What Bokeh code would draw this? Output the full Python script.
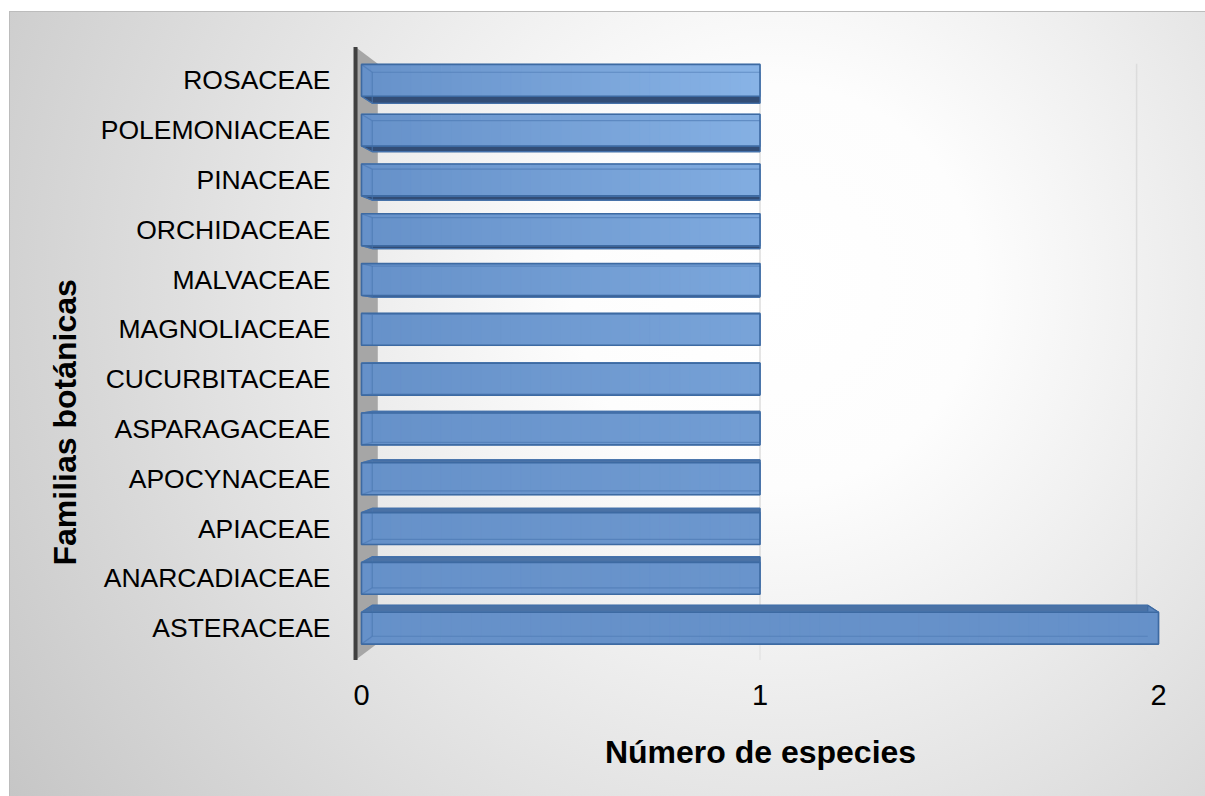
import numpy as np
from bokeh.plotting import figure
from bokeh.models import Range1d, FixedTicker, Title
from bokeh.embed import file_html
from bokeh.resources import INLINE

# Data: number of species per botanical family
familias = ["ASTERACEAE", "ANARCADIACEAE", "APIACEAE", "APOCYNACEAE",
            "ASPARAGACEAE", "CUCURBITACEAE", "MAGNOLIACEAE", "MALVACEAE",
            "ORCHIDACEAE", "PINACEAE", "POLEMONIACEAE", "ROSACEAE"]
especies = [2, 1, 1, 1, 1, 1, 1, 1, 1, 1, 1, 1]
x_ticks = [0, 1, 2]
x_tick_labels = ["0", "1", "2"]

n = len(familias)
pos = np.arange(n)

FONT = "Liberation Sans"

# perspective: points recede toward a vanishing point in the middle of the chart
VX = (x_ticks[0] + x_ticks[-1]) / 2.0
VY = (n - 1) / 2.0
K_BAR = 0.027      # depth of a bar
K_WALL = 0.055     # depth of the chart walls
H = 0.32           # half thickness of a bar (category units)


def recede(x, y, k):
    return x + k * (VX - x), y + k * (VY - y)


def mix(c1, c2, t):
    return "#%02x%02x%02x" % tuple(int(round(a + (b - a) * t)) for a, b in zip(c1, c2))


p = figure(width=1205, height=796, output_backend="svg", toolbar_location=None,
           x_range=Range1d(-0.0527, 2.0552), y_range=Range1d(-0.75, n - 1 + 0.8),
           min_border_left=340, min_border_right=25, min_border_top=40,
           min_border_bottom=131)
p.background_fill_alpha = 0
p.border_fill_alpha = 0
p.outline_line_color = None
p.xgrid.visible = False
p.ygrid.visible = False
p.styles = {
    "background": (
        "radial-gradient(circle farthest-corner at 64% 35%, #ffffff 0%, #fdfdfd 22%, "
        "#c6c6c6 100%) 10px 12px / calc(100% - 10px) calc(100% - 12px) no-repeat, "
        "linear-gradient(#bcbcbc, #bcbcbc) 9px 11px / 100% 100% no-repeat, #ffffff"
    )
}

# ---- side wall at x = 0 ----
wall_top = n - 1 + 0.67
wall_bot = -0.64
wx0 = -0.015
bx_t, by_t = recede(wx0, wall_top, K_WALL)
bx_b, by_b = recede(wx0, wall_bot, K_WALL)
p.patch([wx0, bx_t, bx_b, wx0], [wall_top, by_t, by_b, wall_bot],
        fill_color="#a6a6a6", line_color=None)
p.segment(x0=[wx0], y0=[wall_bot], x1=[wx0], y1=[wall_top],
          line_color="#404040", line_width=4)

# ---- gridlines on the back wall ----
for t in x_ticks[1:]:
    gx, gy_t = recede(t, wall_top, K_WALL)
    _, gy_b = recede(t, wall_bot, K_WALL)
    p.segment(x0=[gx], y0=[gy_t], x1=[gx], y1=[gy_b],
              line_color="#dcdcdc", line_width=1.5)
    p.segment(x0=[gx], y0=[gy_b], x1=[t], y1=[wall_bot],
              line_color="#e4e4e4", line_width=1.5)

# ---- 3D bars ----
BASE = (102, 145, 201)
LIGHT = (136, 179, 230)
EDGE = "#3d6aa2"

for i, (c, v) in enumerate(zip(pos, especies)):
    yb, yt = c - H, c + H
    # corners of front and back faces
    fbl, fbr, ftr, ftl = (0, yb), (v, yb), (v, yt), (0, yt)
    bbl, bbr, btr, btl = [recede(px, py, K_BAR) for px, py in (fbl, fbr, ftr, ftl)]

    # back face
    p.patch([q[0] for q in (bbl, bbr, btr, btl)], [q[1] for q in (bbl, bbr, btr, btl)],
            fill_color="#5a84bb", line_color=EDGE, line_width=1)
    # underside (bars above eye level) or top side (below eye level)
    if c > VY:
        face = (fbl, fbr, bbr, bbl)
        col = "#324d76"
    else:
        face = (ftl, ftr, btr, btl)
        col = "#4a72a6"
    p.patch([q[0] for q in face], [q[1] for q in face],
            fill_color=col, line_color=EDGE, line_width=1.2)
    # right end face
    if v != VX:
        face = (fbr, ftr, btr, bbr)
        p.patch([q[0] for q in face], [q[1] for q in face],
                fill_color="#5a84bb", line_color=EDGE, line_width=1.2)

    # front face with a soft horizontal shading
    steps = int(40 * v)
    edges = np.linspace(0, v, steps + 1)
    shade = i / (n - 1)
    cols = [mix(BASE, LIGHT, min((a + b) / 2, 1.0) * shade) for a, b in zip(edges[:-1], edges[1:])]
    p.quad(left=edges[:-1], right=edges[1:], bottom=yb, top=yt,
           fill_color=cols, line_color=cols, line_width=1)

    # edges of the back face showing through the glassy front face
    p.line([bbl[0], btl[0]], [bbl[1], btl[1]], line_color="#4a77b0", line_alpha=0.7, line_width=1.2)
    p.line([btl[0], btr[0]], [btl[1], btr[1]], line_color="#4a77b0", line_alpha=0.6, line_width=1.2)
    p.line([bbl[0], bbr[0]], [bbl[1], bbr[1]], line_color="#4a77b0", line_alpha=0.6, line_width=1.2)
    p.line([fbl[0], bbl[0]], [fbl[1], bbl[1]], line_color="#4a77b0", line_alpha=0.6, line_width=1.2)
    p.line([ftl[0], btl[0]], [ftl[1], btl[1]], line_color="#4a77b0", line_alpha=0.6, line_width=1.2)

    # front outline
    p.patch([q[0] for q in (fbl, fbr, ftr, ftl)], [q[1] for q in (fbl, fbr, ftr, ftl)],
            fill_alpha=0, line_color=EDGE, line_width=1.6)

# ---- axes ----
p.xaxis.ticker = FixedTicker(ticks=x_ticks)
p.xaxis.major_label_overrides = {t: lab for t, lab in zip(x_ticks, x_tick_labels)}
p.xaxis.axis_label = "Número de especies"
p.yaxis.ticker = FixedTicker(ticks=[int(k) for k in pos])
p.yaxis.major_label_overrides = {int(k): f for k, f in zip(pos, familias)}

for ax in (p.xaxis[0], p.yaxis[0]):
    ax.axis_line_color = None
    ax.major_tick_line_color = None
    ax.minor_tick_line_color = None
    ax.major_tick_out = 0
    ax.major_tick_in = 0
    ax.major_label_text_font = FONT
    ax.major_label_text_color = "#000000"

p.xaxis.axis_label_text_font = FONT
p.xaxis.axis_label_text_font_style = "bold"
p.xaxis.axis_label_text_font_size = "32px"
p.xaxis.axis_label_text_color = "#000000"
p.xaxis.major_label_text_font_size = "29px"
p.xaxis.major_label_standoff = 19
p.xaxis.axis_label_standoff = 26
p.yaxis.major_label_text_font_size = "26.5px"
p.yaxis.major_label_standoff = 10

# vertical title of the category axis, placed a little below the frame's middle
p.add_layout(Title(text="Familias botánicas", align="left", offset=100, standoff=30,
                   text_font=FONT, text_font_style="bold",
                   text_font_size="32px", text_color="#000000"), "left")

open("out.html", "w").write(file_html(p, INLINE))
